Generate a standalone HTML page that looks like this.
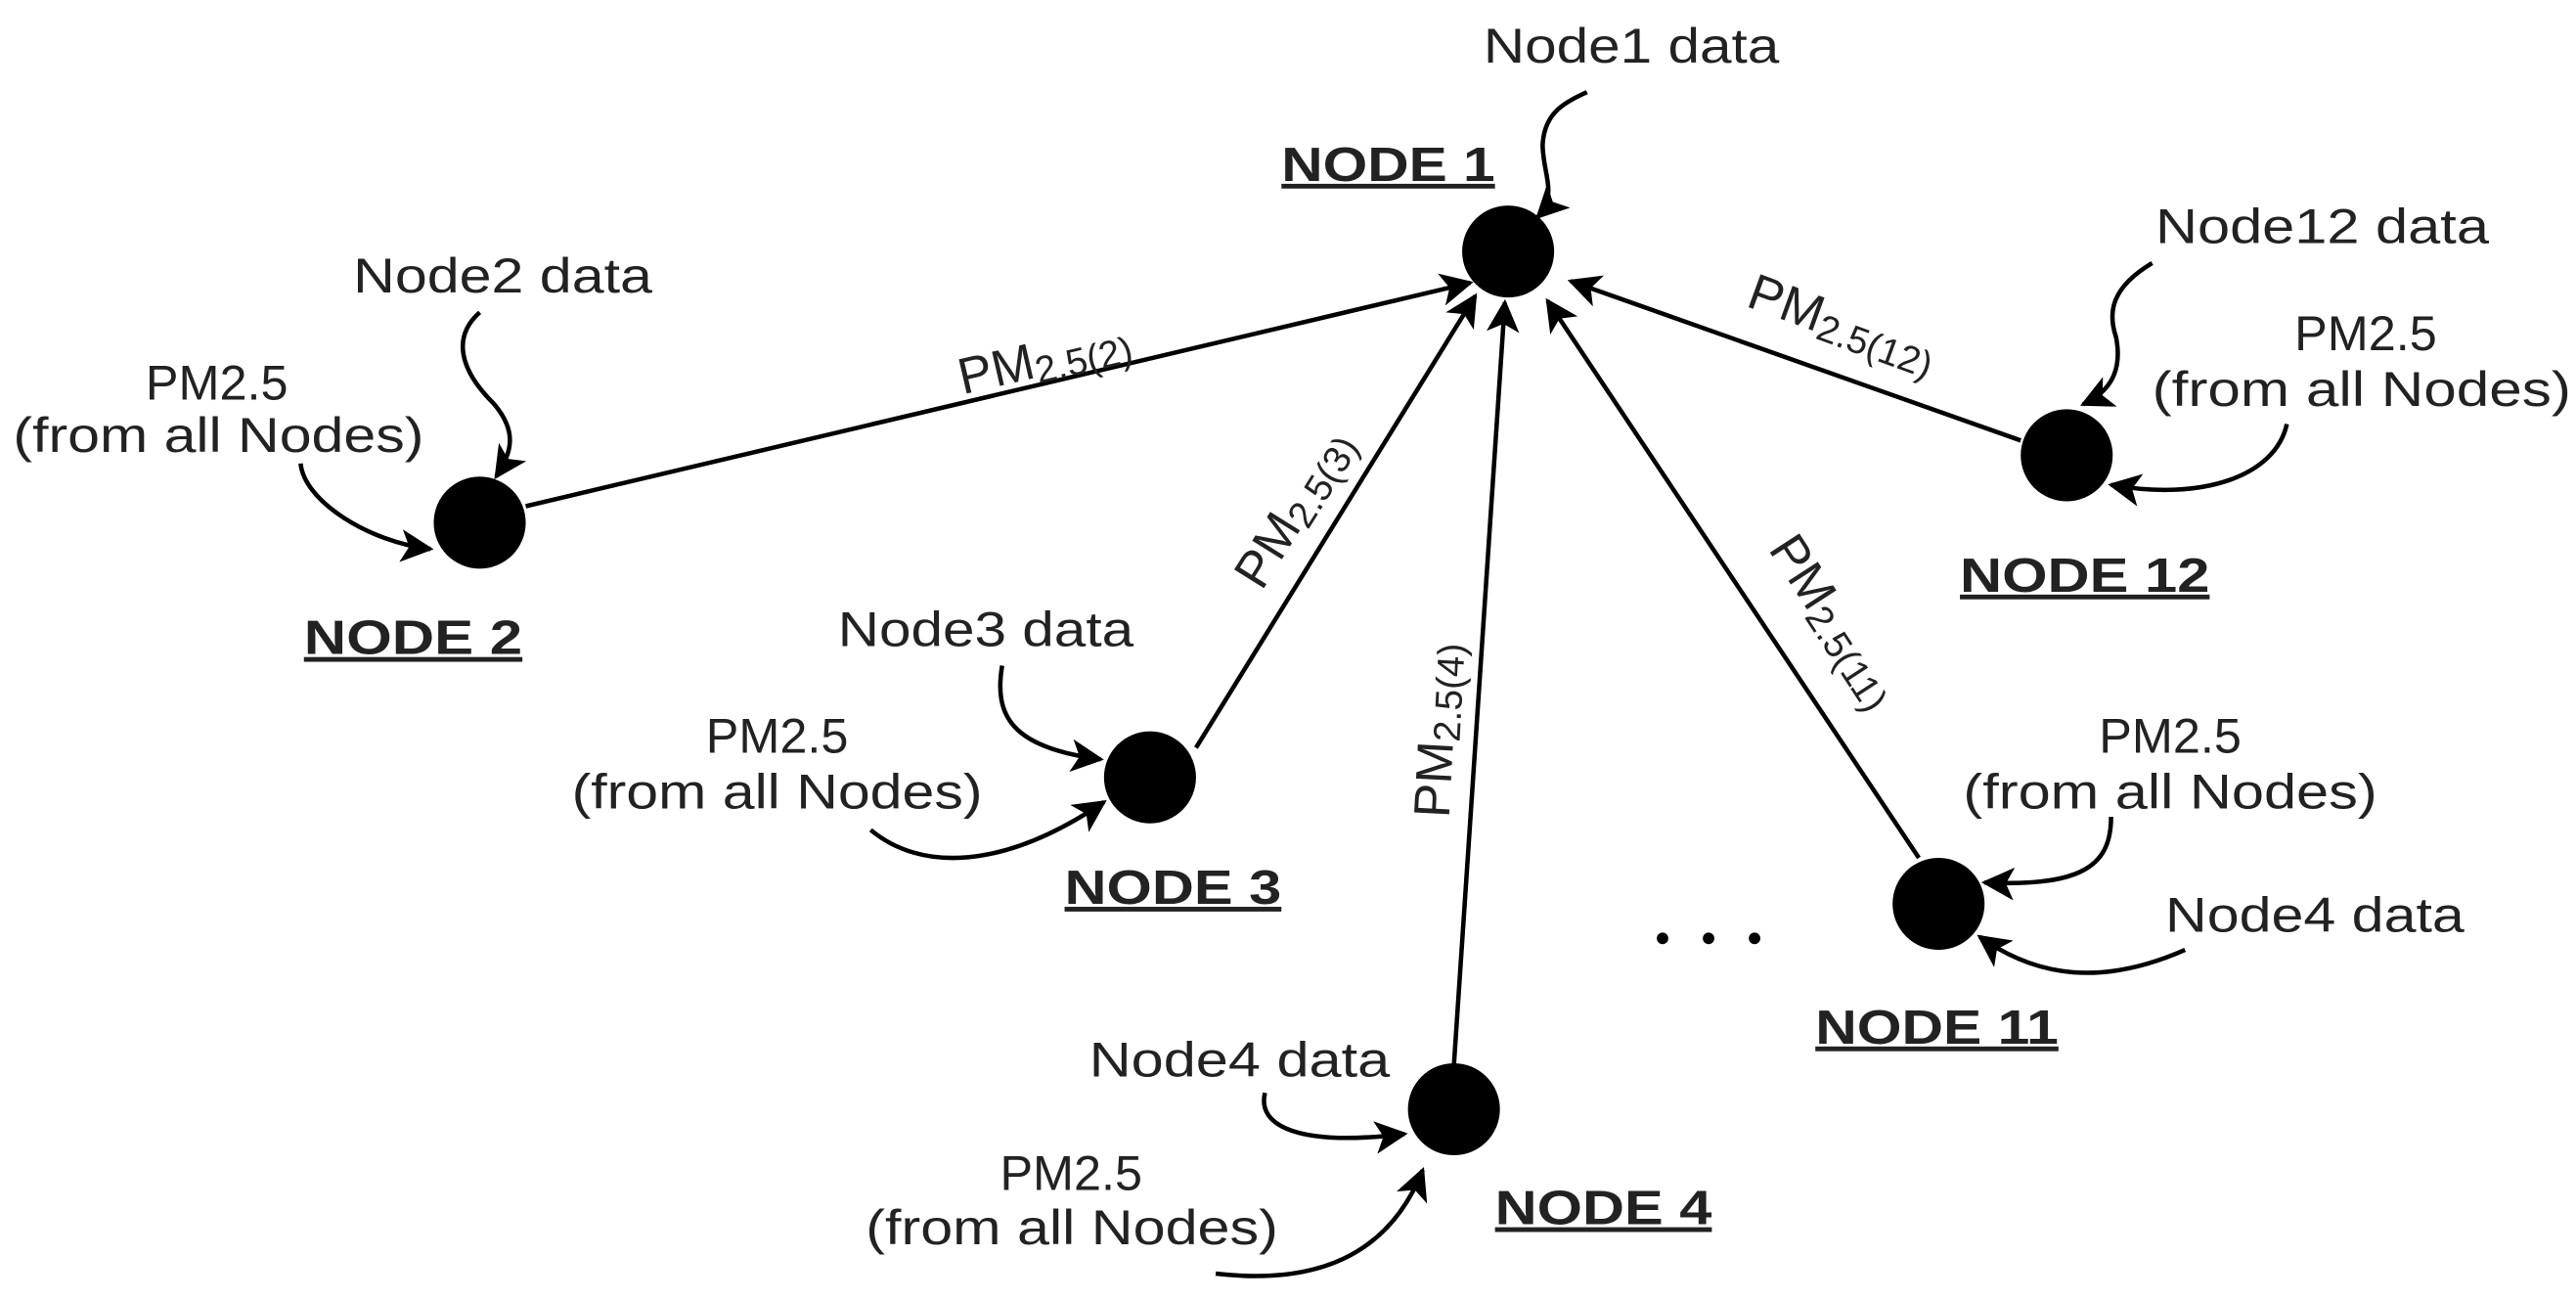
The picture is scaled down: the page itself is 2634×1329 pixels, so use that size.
<!DOCTYPE html>
<html><head><meta charset="utf-8"><style>html,body{margin:0;padding:0;background:#fff}svg{display:block}</style></head>
<body>
<svg width="2634" height="1329" viewBox="0 0 1568 791" xmlns="http://www.w3.org/2000/svg" font-family="'Liberation Sans', Arial, sans-serif">
<defs>
<marker id="b" viewBox="0 0 10 10" refX="9" refY="5" markerWidth="20" markerHeight="20" markerUnits="userSpaceOnUse" orient="auto"><path d="M0,0 L10,5 L0,10 L2.5,5z" fill="#000"/></marker>
</defs>
<g fill="#000">
<circle cx="918" cy="153" r="28"/>
<circle cx="292" cy="318" r="28"/>
<circle cx="700" cy="473" r="28"/>
<circle cx="885" cy="675" r="28"/>
<circle cx="1180" cy="550" r="28"/>
<circle cx="1258" cy="277" r="28"/>
</g>
<g stroke="#000" stroke-width="2.7" fill="none" marker-end="url(#b)">
<line x1="320" y1="308" x2="895" y2="172"/>
<line x1="728" y1="455" x2="898" y2="180"/>
<line x1="885" y1="648" x2="916" y2="184"/>
<line x1="1168" y1="522" x2="942" y2="183"/>
<line x1="1230" y1="268" x2="956" y2="171"/>
<path d="M966,56 C950,63 940,70 939,88 C939,100 944,112 942,120 C940,126 938,130 936,132"/>
<path d="M292,190 C275,205 280,225 300,245 C315,262 312,275 302,290"/>
<path d="M183,282 C185,305 225,330 262,334"/>
<path d="M610,405 C605,435 615,455 670,462"/>
<path d="M530,505 C560,530 610,530 672,488"/>
<path d="M770,665 C765,685 790,698 855,690"/>
<path d="M740,775 C800,782 845,765 866,712"/>
<path d="M1285,497 C1285,525 1270,540 1208,537"/>
<path d="M1330,578 C1280,600 1240,595 1205,570"/>
<path d="M1310,160 C1285,175 1283,190 1288,205 C1292,225 1285,238 1268,246"/>
<path d="M1392,258 C1385,290 1340,305 1285,295"/>
</g>
<g font-size="30" fill="#222">
<text x="903" y="38" textLength="180" lengthAdjust="spacingAndGlyphs">Node1 data</text>
<text x="215" y="178" textLength="182" lengthAdjust="spacingAndGlyphs">Node2 data</text>
<text x="132" y="243" text-anchor="middle">PM2.5</text>
<text x="8" y="275" textLength="250" lengthAdjust="spacingAndGlyphs">(from all Nodes)</text>
<text x="510" y="393" textLength="180" lengthAdjust="spacingAndGlyphs">Node3 data</text>
<text x="473" y="458" text-anchor="middle">PM2.5</text>
<text x="348" y="492" textLength="250" lengthAdjust="spacingAndGlyphs">(from all Nodes)</text>
<text x="663" y="655" textLength="183" lengthAdjust="spacingAndGlyphs">Node4 data</text>
<text x="652" y="724" text-anchor="middle">PM2.5</text>
<text x="527" y="757" textLength="251" lengthAdjust="spacingAndGlyphs">(from all Nodes)</text>
<text x="1321" y="458" text-anchor="middle">PM2.5</text>
<text x="1195" y="492" textLength="252" lengthAdjust="spacingAndGlyphs">(from all Nodes)</text>
<text x="1318" y="567" textLength="182" lengthAdjust="spacingAndGlyphs">Node4 data</text>
<text x="1312" y="148" textLength="203" lengthAdjust="spacingAndGlyphs">Node12 data</text>
<text x="1440" y="213" text-anchor="middle">PM2.5</text>
<text x="1310" y="247" textLength="255" lengthAdjust="spacingAndGlyphs">(from all Nodes)</text>
</g>
<g font-size="29" font-weight="bold" fill="#222" text-decoration="underline">
<text x="780" y="110" textLength="130" lengthAdjust="spacingAndGlyphs">NODE 1</text>
<text x="185" y="398" textLength="133" lengthAdjust="spacingAndGlyphs">NODE 2</text>
<text x="648" y="550" textLength="132" lengthAdjust="spacingAndGlyphs">NODE 3</text>
<text x="910" y="745" textLength="132" lengthAdjust="spacingAndGlyphs">NODE 4</text>
<text x="1105" y="635" textLength="148" lengthAdjust="spacingAndGlyphs">NODE 11</text>
<text x="1193" y="360" textLength="152" lengthAdjust="spacingAndGlyphs">NODE 12</text>
</g>
<g fill="#000"><circle cx="1012" cy="571" r="3.5"/><circle cx="1040" cy="571" r="3.5"/><circle cx="1068" cy="571" r="3.5"/></g>
<g font-size="31" fill="#222">
<text transform="translate(586,240) rotate(-13)">PM<tspan font-size="23" dy="4">2.5(2)</tspan></text>
<text transform="translate(768,360) rotate(-58)">PM<tspan font-size="23" dy="4">2.5(3)</tspan></text>
<text transform="translate(882,498) rotate(-87)">PM<tspan font-size="23" dy="4">2.5(4)</tspan></text>
<text transform="translate(1076,334) rotate(57)">PM<tspan font-size="23" dy="4">2.5(11)</tspan></text>
<text transform="translate(1062,186) rotate(20)">PM<tspan font-size="23" dy="4">2.5(12)</tspan></text>
</g>
</svg>
</body></html>
